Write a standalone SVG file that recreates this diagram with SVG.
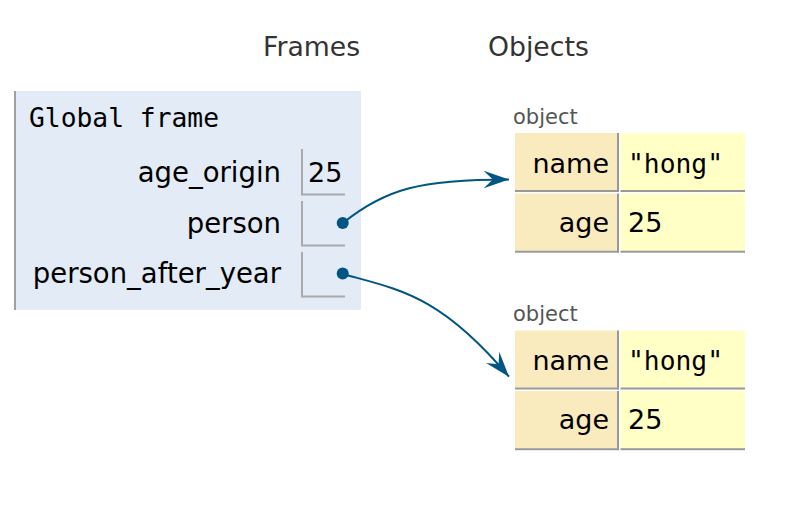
<svg xmlns="http://www.w3.org/2000/svg" width="810" height="514" viewBox="0 0 810 514">
<style>
.hdr{font-family:"DejaVu Sans",Verdana,sans-serif;font-size:26.7px;fill:#333}
.var{font-family:"DejaVu Sans",Verdana,sans-serif;font-size:27.5px;fill:#000;text-anchor:end}
.mono{font-family:"DejaVu Sans Mono",monospace;font-size:26.3px;fill:#000}
.txt{font-family:"DejaVu Sans",Verdana,sans-serif;font-size:27px;fill:#000}
.key{font-family:"DejaVu Sans",Verdana,sans-serif;font-size:27px;fill:#000;text-anchor:end}
.lbl{font-family:"DejaVu Sans",Verdana,sans-serif;font-size:21px;fill:#555}
.cell{fill:none;stroke:#aaa;stroke-width:2}
.kf{fill:#faebbf}
.vf{fill:#ffffc6}
.bd{fill:#999}
.conn{fill:none;stroke:#005583;stroke-width:2}
.dot{fill:#005583}
</style>
<defs>
<marker id="ah" markerUnits="userSpaceOnUse" markerWidth="30" markerHeight="30" viewBox="-24 -10 26 20" refX="0" refY="0" orient="auto">
<path d="M0,0 L-22,-7.5 L-14,0 L-22,7.5 Z" fill="#005583"/>
</marker>
</defs>
<rect width="810" height="514" fill="#fff"/>
<text class="hdr" x="263" y="56">Frames</text>
<text class="hdr" x="488" y="56">Objects</text>

<g id="global-frame">
<rect x="14" y="91" width="347" height="219" fill="#e2ebf6"/>
<rect x="14" y="91" width="2" height="219" fill="#a0a0a0"/>
<text class="mono" x="29" y="127">Global frame</text>
<text class="var" x="281" y="182">age_origin</text>
<path class="cell" d="M302,149 V194.5 H345"/>
<text class="txt" x="308" y="182">25</text>
<text class="var" x="281" y="233">person</text>
<path class="cell" d="M302,201 V245.5 H345"/>
<text class="var" x="281" y="283">person_after_year</text>
<path class="cell" d="M302,252 V296.5 H345"/>
</g>

<g id="object1">
<text class="lbl" x="513" y="124">object</text>
<rect class="kf" x="515" y="133" width="102" height="57"/>
<rect class="vf" x="620.5" y="133" width="124.5" height="57"/>
<rect class="bd" x="617" y="133" width="2" height="59"/>
<rect class="bd" x="515" y="190" width="104" height="2"/>
<rect class="bd" x="620.5" y="190" width="124.5" height="2"/>
<text class="key" x="609" y="173">name</text>
<text class="mono" x="628" y="173">"hong"</text>
<rect class="kf" x="515" y="193.5" width="102" height="57.2"/>
<rect class="vf" x="620.5" y="193.5" width="124.5" height="57.2"/>
<rect class="bd" x="617" y="193.5" width="2" height="59.2"/>
<rect class="bd" x="515" y="250.7" width="104" height="2"/>
<rect class="bd" x="620.5" y="250.7" width="124.5" height="2"/>
<text class="key" x="609" y="232">age</text>
<text class="txt" x="628" y="232">25</text>
</g>

<g id="object2">
<text class="lbl" x="513" y="321">object</text>
<rect class="kf" x="515" y="330.5" width="102" height="57"/>
<rect class="vf" x="620.5" y="330.5" width="124.5" height="57"/>
<rect class="bd" x="617" y="330.5" width="2" height="59"/>
<rect class="bd" x="515" y="387.5" width="104" height="2"/>
<rect class="bd" x="620.5" y="387.5" width="124.5" height="2"/>
<text class="key" x="609" y="370">name</text>
<text class="mono" x="628" y="370">"hong"</text>
<rect class="kf" x="515" y="391" width="102" height="57.2"/>
<rect class="vf" x="620.5" y="391" width="124.5" height="57.2"/>
<rect class="bd" x="617" y="391" width="2" height="59.2"/>
<rect class="bd" x="515" y="448.2" width="104" height="2"/>
<rect class="bd" x="620.5" y="448.2" width="124.5" height="2"/>
<text class="key" x="609" y="429">age</text>
<text class="txt" x="628" y="429">25</text>
</g>

<g id="connectors">
<path class="conn" d="M343,223 C385,189 420,179.5 509,179.5" marker-end="url(#ah)"/>
<path class="conn" d="M343,274 C400,290 440,295 509,376.7" marker-end="url(#ah)"/>
<circle class="dot" cx="342.7" cy="223" r="6"/>
<circle class="dot" cx="342.7" cy="273.5" r="6"/>
</g>
</svg>
